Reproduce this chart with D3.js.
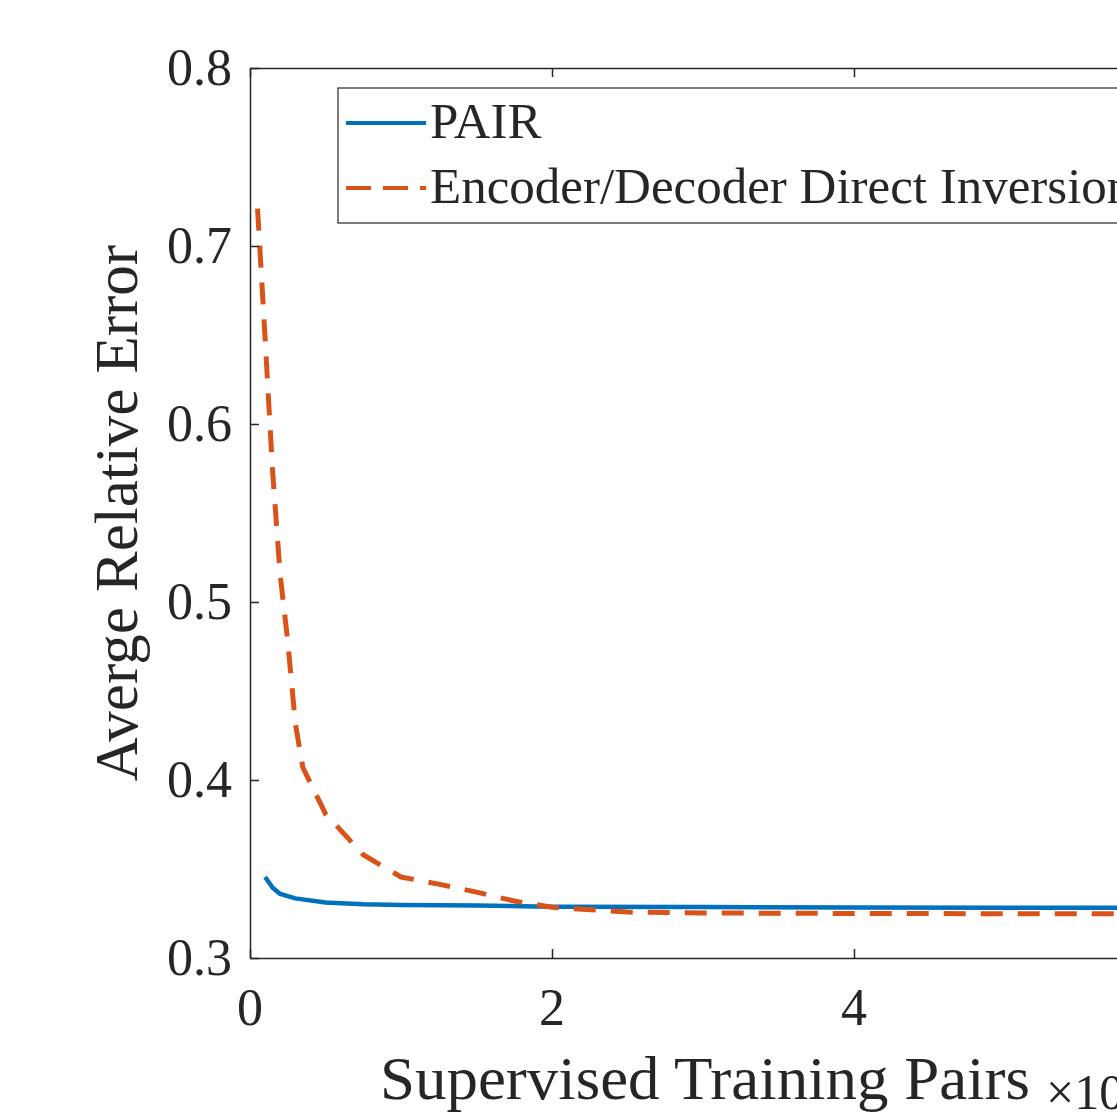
<!DOCTYPE html>
<html>
<head>
<meta charset="utf-8">
<script src="https://cdn.jsdelivr.net/npm/d3@7"></script>
<style>
	body { margin: 0; background: #fff; overflow: hidden; }
	svg { display: block; }
	text { font-family: "Liberation Serif", "DejaVu Serif", serif; fill: #262626; }
</style>
</head>
<body>
<div id="chart"></div>
<script>
// x values are in units of 10^4 supervised pairs
var pairX = [0.1, 0.15, 0.2, 0.3, 0.5, 0.75, 1.0, 1.5, 2.0, 3.0, 4.0, 5.0, 6.0, 7.0, 8.0, 9.0, 10.0];
var pairY = [0.3455, 0.3395, 0.336, 0.3335, 0.3312, 0.3302, 0.3298, 0.3295, 0.3288, 0.3286, 0.3284, 0.3283, 0.3282, 0.3282, 0.3281, 0.3281, 0.3281];

var encX = [0.05, 0.1, 0.15, 0.2, 0.25, 0.3, 0.35, 0.5, 0.75, 1.0, 1.25, 1.5, 1.75, 2.0, 2.5, 3.0, 4.0, 5.0, 6.0, 7.0, 8.0, 9.0, 10.0];
var encY = [0.721, 0.648, 0.573, 0.515, 0.478, 0.432, 0.407, 0.381, 0.358, 0.3455, 0.3415, 0.337, 0.332, 0.3285, 0.3258, 0.3253, 0.325, 0.3249, 0.3248, 0.3248, 0.3247, 0.3247, 0.3247];

var xTicks = [0, 2, 4, 6, 8, 10];
var yTicks = [0.3, 0.4, 0.5, 0.6, 0.7, 0.8];

var seriesNames = ["PAIR", "Encoder/Decoder Direct Inversion"];
var xLabel = "Supervised Training Pairs";
var yLabel = "Averge Relative Error";
var xExponent = "\u00d710";

var W = 1117, H = 1113;
var plotLeft = 250, plotTop = 68, plotBottom = 958, plotRight = 1760;
var axisColor = "#262626";
var blue = "#0072BD", orange = "#D95319";

var svg = d3.select("#chart")
	.append("svg")
	.attr("width", W)
	.attr("height", H);

var x = d3.scaleLinear().domain([0, 10]).range([plotLeft, plotRight]);
var y = d3.scaleLinear().domain([0.3, 0.8]).range([plotBottom, plotTop]);

svg.append("clipPath")
	.attr("id", "plotclip")
	.append("rect")
	.attr("x", plotLeft)
	.attr("y", plotTop)
	.attr("width", plotRight - plotLeft)
	.attr("height", plotBottom - plotTop);

// lines
var pairData = pairX.map(function (d, i) { return [d, pairY[i]]; });
var encData = encX.map(function (d, i) { return [d, encY[i]]; });

var line = d3.line()
	.x(function (d) { return x(d[0]); })
	.y(function (d) { return y(d[1]); });

var plot = svg.append("g").attr("clip-path", "url(#plotclip)");

plot.append("path")
	.datum(pairData)
	.attr("fill", "none")
	.attr("stroke", blue)
	.attr("stroke-width", 4.5)
	.attr("stroke-linejoin", "round")
	.attr("d", line);

plot.append("path")
	.datum(encData)
	.attr("fill", "none")
	.attr("stroke", orange)
	.attr("stroke-width", 5)
	.attr("stroke-dasharray", "22,15")
	.attr("d", line);

// axes (inward ticks, box)
var tickLen = 9;

function styleAxis(g) {
	g.select(".domain").attr("stroke", axisColor).attr("stroke-width", 1.5);
	g.selectAll(".tick line").attr("stroke", axisColor).attr("stroke-width", 1.5);
}

svg.append("g")
	.attr("transform", "translate(0," + plotBottom + ")")
	.call(d3.axisBottom(x).tickValues(xTicks).tickSizeInner(-tickLen).tickSizeOuter(0).tickFormat(""))
	.call(styleAxis);

svg.append("g")
	.attr("transform", "translate(0," + plotTop + ")")
	.call(d3.axisTop(x).tickValues(xTicks).tickSizeInner(-tickLen).tickSizeOuter(0).tickFormat(""))
	.call(styleAxis);

svg.append("g")
	.attr("transform", "translate(" + plotLeft + ",0)")
	.call(d3.axisLeft(y).tickValues(yTicks).tickSizeInner(-tickLen).tickSizeOuter(0).tickFormat(""))
	.call(styleAxis);

// tick labels
svg.selectAll(".ylab")
	.data(yTicks)
	.enter()
	.append("text")
	.attr("class", "ylab")
	.attr("x", 232)
	.attr("y", function (d) { return y(d) + 17; })
	.attr("text-anchor", "end")
	.style("font-size", "52px")
	.text(function (d) { return d3.format(".1f")(d); });

// only labels that fall inside the visible window
svg.selectAll(".xlab")
	.data(xTicks.filter(function (d) { return x(d) + 20 < W; }))
	.enter()
	.append("text")
	.attr("class", "xlab")
	.attr("x", function (d) { return x(d); })
	.attr("y", 1025)
	.attr("text-anchor", "middle")
	.style("font-size", "52px")
	.text(function (d) { return d; });

// axis titles
svg.append("text")
	.attr("text-anchor", "middle")
	.attr("transform", "translate(137," + ((plotTop + plotBottom) / 2) + ") rotate(-90)")
	.style("font-size", "61px")
	.text(yLabel);

svg.append("text")
	.attr("x", 380)
	.attr("y", 1099)
	.style("font-size", "61px")
	.attr("textLength", 650)
	.attr("lengthAdjust", "spacingAndGlyphs")
	.text(xLabel);

svg.append("text")
	.attr("x", 1046)
	.attr("y", 1109)
	.style("font-size", "50px")
	.text(xExponent);

// legend
var legend = svg.append("g");

legend.append("rect")
	.attr("x", 338)
	.attr("y", 88)
	.attr("width", 900)
	.attr("height", 135)
	.attr("fill", "#fff")
	.attr("stroke", axisColor)
	.attr("stroke-width", 1.2);

var legendY = [123, 188];
var legendColors = [blue, orange];
var legendDash = [null, "25,12"];

legend.selectAll(".legline")
	.data(seriesNames)
	.enter()
	.append("line")
	.attr("class", "legline")
	.attr("x1", 346)
	.attr("x2", 426)
	.attr("y1", function (d, i) { return legendY[i]; })
	.attr("y2", function (d, i) { return legendY[i]; })
	.attr("stroke", function (d, i) { return legendColors[i]; })
	.attr("stroke-width", 4)
	.attr("stroke-dasharray", function (d, i) { return legendDash[i]; });

legend.selectAll(".legtext")
	.data(seriesNames)
	.enter()
	.append("text")
	.attr("class", "legtext")
	.attr("x", 430)
	.attr("y", function (d, i) { return legendY[i] + 15; })
	.style("font-size", "51px")
	.text(function (d) { return d; });
</script>
</body>
</html>
